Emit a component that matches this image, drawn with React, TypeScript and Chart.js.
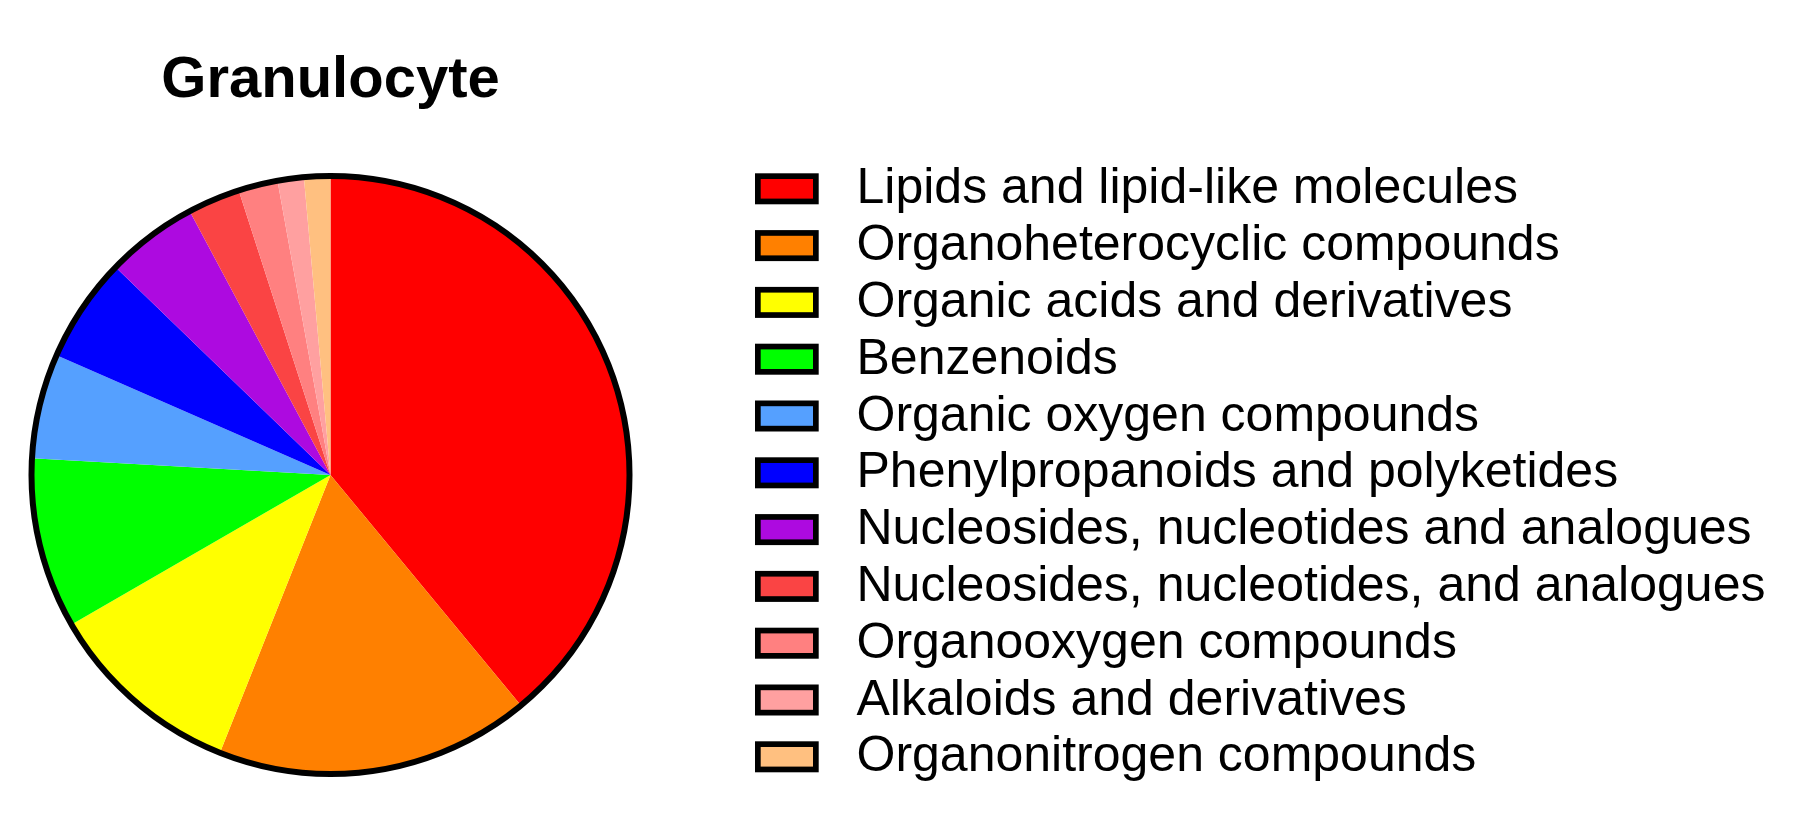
import React, { useEffect, useRef } from "react";
import { Chart, registerables } from "chart.js";

Chart.register(...registerables);

const chartTitle = "Granulocyte";

const categories = [
  "Lipids and lipid-like molecules",
  "Organoheterocyclic compounds",
  "Organic acids and derivatives",
  "Benzenoids",
  "Organic oxygen compounds",
  "Phenylpropanoids and polyketides",
  "Nucleosides, nucleotides and analogues",
  "Nucleosides, nucleotides, and analogues",
  "Organooxygen compounds",
  "Alkaloids and derivatives",
  "Organonitrogen compounds",
];

const counts = [55, 24, 15, 13, 8, 8, 7, 4, 3, 2, 2];

const sliceColors = [
  "#FF0000",
  "#FF8000",
  "#FFFF00",
  "#00FF00",
  "#55A0FF",
  "#0000FF",
  "#AD0AE0",
  "#FA4444",
  "#FF8080",
  "#FFA0A0",
  "#FFC080",
];

const FONT = '"Liberation Sans", Arial, Helvetica, sans-serif';

const ringPlugin = {
  id: "outerRing",
  afterDatasetsDraw(chart: any) {
    const meta = chart.getDatasetMeta(0);
    if (!meta || !meta.data.length) return;
    const arc = meta.data[0];
    const { x, y, outerRadius } = arc.getProps(["x", "y", "outerRadius"], true);
    const ctx = chart.ctx;
    ctx.save();
    ctx.beginPath();
    ctx.arc(x, y, outerRadius, 0, Math.PI * 2);
    ctx.lineWidth = 6;
    ctx.strokeStyle = "#000000";
    ctx.stroke();
    ctx.restore();
  },
};

const legendPlugin = {
  id: "boxLegend",
  afterDraw(chart: any) {
    const ctx = chart.ctx;
    const labels: string[] = chart.data.labels;
    const bg: string[] = chart.data.datasets[0].backgroundColor;
    const boxLeft = 755;
    const boxW = 63.7;
    const boxH = 31;
    const border = 5.7;
    const firstCenter = 188.8;
    const step = 56.8;
    const textX = 856.5;
    ctx.save();
    ctx.font = `50px ${FONT}`;
    ctx.textAlign = "left";
    ctx.textBaseline = "alphabetic";
    labels.forEach((lab, i) => {
      const cy = firstCenter + i * step;
      ctx.fillStyle = "#000000";
      ctx.fillRect(boxLeft, cy - boxH / 2, boxW, boxH);
      ctx.fillStyle = bg[i];
      ctx.fillRect(boxLeft + border, cy - boxH / 2 + border, boxW - 2 * border, boxH - 2 * border);
      ctx.fillStyle = "#000000";
      ctx.fillText(lab, textX, cy + 14.5);
    });
    ctx.restore();
  },
};

export default function App() {
  const canvasRef = useRef<HTMLCanvasElement | null>(null);

  useEffect(() => {
    document.body.style.margin = "0";
    const canvas = canvasRef.current;
    if (!canvas) return;
    Chart.defaults.font.family = FONT;
    const chart = new Chart(canvas, {
      type: "pie",
      data: {
        labels: categories,
        datasets: [
          {
            data: counts,
            backgroundColor: sliceColors,
            borderWidth: 0,
          },
        ],
      },
      options: {
        responsive: false,
        animation: false,
        devicePixelRatio: 1,
        layout: {
          padding: { left: 31.5, right: 1184.5, top: 0, bottom: 54 },
        },
        plugins: {
          legend: { display: false },
          tooltip: { enabled: false },
          title: {
            display: true,
            text: chartTitle,
            color: "#000000",
            font: { size: 58, weight: "bold", family: FONT, lineHeight: 1.2 },
            padding: { top: 46, bottom: 60.4 },
          },
        },
      },
      plugins: [ringPlugin, legendPlugin],
    } as any);
    return () => {
      chart.destroy();
    };
  }, []);

  return (
    <div style={{ position: "fixed", left: 0, top: 0, width: 1814, height: 828, background: "#ffffff" }}>
      <canvas ref={canvasRef} width={1814} height={828} style={{ display: "block", width: 1814, height: 828 }} />
    </div>
  );
}
